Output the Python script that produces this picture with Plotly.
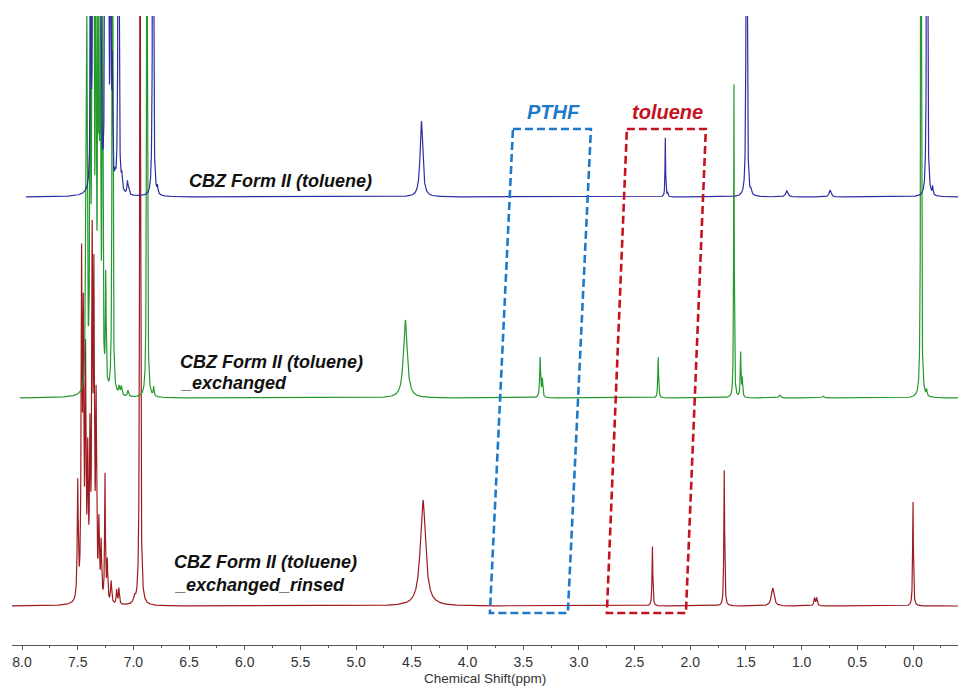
import numpy as np
import plotly.graph_objects as go

# ---------------- axis ----------------
x_range = [8.09, -0.404]
tick_vals = [8.0, 7.5, 7.0, 6.5, 6.0, 5.5, 5.0, 4.5, 4.0, 3.5, 3.0, 2.5, 2.0, 1.5, 1.0, 0.5, 0.0]
tick_text = ["8.0", "7.5", "7.0", "6.5", "6.0", "5.5", "5.0", "4.5", "4.0", "3.5",
             "3.0", "2.5", "2.0", "1.5", "1.0", "0.5", "0.0"]
minor_vals = [7.75, 7.25, 6.75, 6.25, 5.75, 5.25, 4.75, 4.25, 3.75, 3.25, 2.75, 2.25,
              1.75, 1.25, 0.75, 0.25, -0.25]
x_title = "Chemical Shift(ppm)"

# ---------------- spectra (peak lists) ----------------
# red: CBZ Form II (toluene)_exchanged_rinsed
red_ppm = [7.50, 7.465, 7.45, 7.43, 7.41, 7.39, 7.37, 7.355, 7.335, 7.31, 7.29, 7.255,
           7.235, 7.20, 7.15, 7.13, 6.99, 6.94, 4.40, 2.34, 1.695, 1.26, 0.885, 0.865, 0.0]
red_h = [116, 327, 260, 230, 130, 150, 337, 300, 190, 72, 55, 126,
         40, 22, 14, 16, 6, 900, 106, 60, 136, 18, 8, 8, 105]
red_w = [0.005, 0.005, 0.005, 0.005, 0.005, 0.005, 0.005, 0.005, 0.005, 0.005, 0.005, 0.004,
         0.005, 0.006, 0.005, 0.005, 0.01, 0.004, 0.028, 0.004, 0.004, 0.014, 0.006, 0.006, 0.004]

# green: CBZ Form II (toluene)_exchanged
green_ppm = [7.50, 7.49, 7.46, 7.44, 7.43, 7.41, 7.39, 7.38, 7.37, 7.35, 7.32, 7.26,
             7.20, 7.18, 7.12, 6.95, 6.89, 4.63, 3.42, 3.40, 2.36, 1.68, 1.62, 1.605,
             1.27, 0.88, 0.0, -0.05]
green_h = [149, 346, 371, 800, 800, 500, 420, 153, 400, 420, 111, 1000,
           8, 9, 6, 1000, 9, 78, 40, 18, 41, 319, 45, 18,
           3, 2, 1000, 6]
green_w = [0.004, 0.004, 0.004, 0.004, 0.004, 0.004, 0.004, 0.004, 0.004, 0.004, 0.004, 0.003,
           0.006, 0.006, 0.006, 0.003, 0.004, 0.02, 0.005, 0.005, 0.004, 0.003, 0.004, 0.004,
           0.01, 0.01, 0.003, 0.004]

# blue: CBZ Form II (toluene)
blue_ppm = [7.51, 7.49, 7.475, 7.46, 7.445, 7.43, 7.42, 7.38, 7.365, 7.35, 7.33, 7.315,
            7.26, 7.29, 7.23, 7.18, 7.17, 6.95, 6.91, 4.54, 2.35, 2.33, 1.62, 1.58,
            1.26, 0.87, 0.015, 0.0, -0.05]
blue_h = [250, 400, 500, 400, 350, 300, 260, 400, 450, 300, 350, 110,
          1000, 9, 14, 12, 8, 1000, 7, 76, 59, 4, 1000, 4,
          6, 7, 3, 1000, 8]
blue_w = [0.004, 0.004, 0.004, 0.004, 0.004, 0.004, 0.004, 0.004, 0.004, 0.004, 0.004, 0.004,
          0.003, 0.005, 0.005, 0.005, 0.005, 0.003, 0.004, 0.014, 0.003, 0.004, 0.003, 0.004,
          0.012, 0.01, 0.004, 0.003, 0.004]

# stacking offsets (ppm shift, vertical baseline)
x_shift = {"red": 0.0, "green": -0.072, "blue": -0.126}
y_base = {"red": 39, "green": 247, "blue": 448}
colors = {"red": "#9E1B1F", "green": "#24992C", "blue": "#2E2EA3"}

# ---------------- labels & boxes ----------------
label_text = ["CBZ Form II (toluene)", "CBZ Form II (toluene)", "_exchanged",
              "CBZ Form II (toluene)", "_exchanged_rinsed"]
label_x = [6.519, 6.600, 6.600, 6.654, 6.654]
label_y = [464, 283, 262, 83, 60]

box_names = ["PTHF", "toluene"]
box_colors = ["#1E7AC8", "#C4121E"]
box_top_x = [[3.592, 2.892], [2.569, 1.860]]
box_bot_x = [[3.099, 3.799], [2.039, 2.749]]
box_top_y = 516
box_bot_y = 32
box_label_x = [3.224, 2.201]
box_label_y = 533


def lorentz_sum(grid, ppm, h, w):
    y = np.zeros_like(grid)
    for p, a, g in zip(ppm, h, w):
        y += a * g * g / ((grid - p) ** 2 + g * g)
    return y


grid = np.arange(8.09, -0.52, -0.0008)

fig = go.Figure()
for name, ppm, h, w in [("red", red_ppm, red_h, red_w),
                        ("green", green_ppm, green_h, green_w),
                        ("blue", blue_ppm, blue_h, blue_w)]:
    yv = lorentz_sum(grid, ppm, h, w) + y_base[name]
    fig.add_trace(go.Scatter(x=grid + x_shift[name], y=yv, mode="lines",
                             line=dict(color=colors[name], width=1.2),
                             hoverinfo="skip", showlegend=False))

for t, xx, yy in zip(label_text, label_x, label_y):
    fig.add_annotation(x=xx, y=yy, text=t, showarrow=False, xanchor="left", yanchor="middle",
                       font=dict(family="Liberation Sans, Arial", size=18, color="#111111",
                                 weight="bold", style="italic"))

for i, nm in enumerate(box_names):
    xs = [box_top_x[i][0], box_top_x[i][1], box_bot_x[i][0], box_bot_x[i][1]]
    ys = [box_top_y, box_top_y, box_bot_y, box_bot_y]
    path = "M {},{} L {},{} L {},{} L {},{} Z".format(xs[0], ys[0], xs[1], ys[1],
                                                       xs[2], ys[2], xs[3], ys[3])
    fig.add_shape(type="path", path=path, xref="x", yref="y",
                  line=dict(color=box_colors[i], width=2.6, dash="8px,4px"))
    fig.add_annotation(x=box_label_x[i], y=box_label_y, text=nm, showarrow=False,
                       xanchor="center", yanchor="middle",
                       font=dict(family="Liberation Sans, Arial", size=20, color=box_colors[i],
                                 weight="bold", style="italic"))

fig.add_annotation(x=0.5005, y=-33.5 / 629, xref="paper", yref="paper", text=x_title,
                   showarrow=False, xanchor="center", yanchor="middle",
                   font=dict(family="Liberation Sans, Arial", size=13.5, color="#333333"))

fig.update_layout(
    width=960, height=687,
    margin=dict(l=12, r=2, t=16, b=42),
    paper_bgcolor="white", plot_bgcolor="white",
    showlegend=False,
    xaxis=dict(range=x_range, showline=True, linecolor="#555555", linewidth=1,
               ticks="outside", ticklen=4, tickcolor="#555555", tickwidth=1,
               tickvals=tick_vals, ticktext=tick_text, ticklabelstandoff=0,
               tickfont=dict(family="Liberation Sans, Arial", size=14, color="#333333"),
               minor=dict(tickvals=minor_vals, ticks="outside", ticklen=2, tickcolor="#555555"),
               showgrid=False, zeroline=False),
    yaxis=dict(range=[0, 629], visible=False, showgrid=False, zeroline=False),
)

fig.write_html("out.html")
